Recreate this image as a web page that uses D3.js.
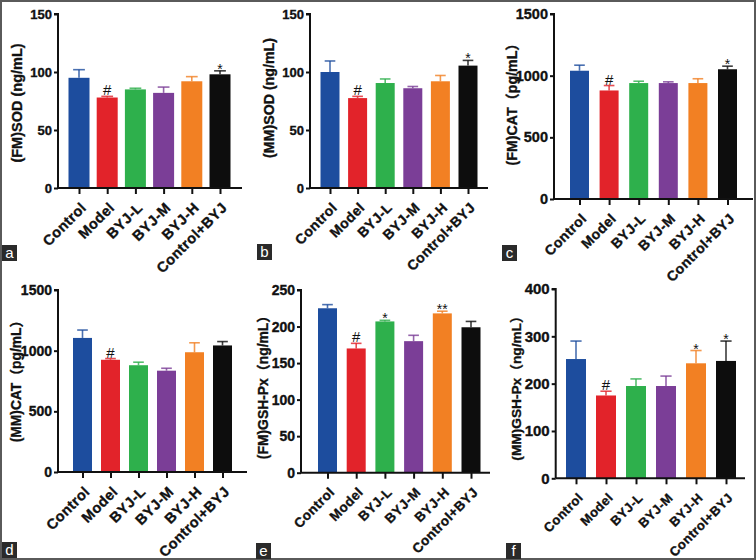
<!DOCTYPE html>
<html><head><meta charset="utf-8">
<script src="https://cdn.jsdelivr.net/npm/d3@7"></script>
<style>html,body{margin:0;padding:0;background:#fff}svg{display:block}</style>
</head><body>
<svg id="c" width="756" height="560"></svg>
<script>
const categories = ["Control","Model","BYJ-L","BYJ-M","BYJ-H","Control+BYJ"];
const colors = ["#1d4d9e","#e2232a","#2eb04c","#7b3e97","#f28023","#0d0d0d"];

const fmSOD = [95, 78, 85, 82, 92, 98];
const fmSODErr = [7, 1, 1, 5, 4, 3];
const mmSOD = [100, 77.5, 90.5, 86, 92, 105.5];
const mmSODErr = [9.5, 1.5, 3.5, 1.5, 5, 4.5];
const fmCAT = [1040, 880, 940, 940, 940, 1052];
const fmCATErr = [45, 40, 15, 10, 35, 25];
const mmCAT = [1105, 925, 880, 835, 987, 1043];
const mmCATErr = [65, 10, 25, 20, 78, 32];
const fmGSH = [225, 170, 207, 180, 218, 199];
const fmGSHErr = [5, 7, 1.5, 8, 3, 8];
const mmGSH = [252, 175, 195, 195, 243, 248];
const mmGSHErr = [38, 9, 15, 21, 27, 42];

const sigA = ["", "#", "", "", "", "*"];
const sigB = ["", "#", "", "", "", "*"];
const sigC = ["", "#", "", "", "", "*"];
const sigD = ["", "#", "", "", "", ""];
const sigE = ["", "#", "*", "", "**", ""];
const sigF = ["", "#", "", "", "*", "*"];

const ticksSOD = [0, 50, 100, 150];
const ticksCAT = [0, 500, 1000, 1500];
const ticksGSHe = [0, 50, 100, 150, 200, 250];
const ticksGSHf = [0, 100, 200, 300, 400];

const titles = ["(FM)SOD (ng/mL)", "(MM)SOD (ng/mL)", "(FM)CAT（pg/mL）", "(MM)CAT（pg/mL）", "(FM)GSH-Px（ng/mL）", "(MM)GSH-Px（ng/mL）"];
const panelLetters = ["a","b","c","d","e","f"];

const panels = [
  {v: fmSOD, e: fmSODErr, s: sigA, t: ticksSOD, ax: 58, top: 14, bot: 188, xe: 242, c0: 79, c1: 220, bw: 21, fs: 13, xfs: 14.5, tx: 17, ty: 103, tfs: 14.5, lx: 2, ly: 245},
  {v: mmSOD, e: mmSODErr, s: sigB, t: ticksSOD, ax: 310, top: 14, bot: 188, xe: 488, c0: 330, c1: 468, bw: 19, fs: 13, xfs: 14, tx: 269, ty: 98, tfs: 14.2, lx: 257, ly: 244},
  {v: fmCAT, e: fmCATErr, s: sigC, t: ticksCAT, ax: 554, top: 14, bot: 199, xe: 753, c0: 579.5, c1: 727.5, bw: 19, fs: 14.5, xfs: 14, tx: 512, ty: 101, tfs: 14.2, lx: 502, ly: 245},
  {v: mmCAT, e: mmCATErr, s: sigD, t: ticksCAT, ax: 58, top: 290, bot: 472, xe: 247, c0: 82.5, c1: 222.5, bw: 19, fs: 14, xfs: 14.5, tx: 16, ty: 378, tfs: 13.8, lx: 2, ly: 542},
  {v: fmGSH, e: fmGSHErr, s: sigE, t: ticksGSHe, ax: 301, top: 290, bot: 472.7, xe: 490, c0: 327.5, c1: 471, bw: 19, fs: 14, xfs: 13.5, tx: 263, ty: 384, tfs: 13.9, lx: 256, ly: 543},
  {v: mmGSH, e: mmGSHErr, s: sigF, t: ticksGSHf, ax: 555.7, top: 289, bot: 478.3, xe: 745, c0: 576, c1: 726, bw: 20, fs: 15, xfs: 13, tx: 516, ty: 385, tfs: 13.7, lx: 506, ly: 543}
];

const svg = d3.select("#c");
svg.append("rect").attr("x", 1).attr("y", 1).attr("width", 754).attr("height", 558)
  .attr("fill", "#fff").attr("stroke", "#5a5a5a").attr("stroke-width", 2);

const FONT = "'Liberation Sans', Arial, 'Noto Sans CJK SC', sans-serif";

function heavy(sel) {
  sel.attr("font-family", FONT).attr("font-weight", "bold").attr("fill", "#111")
    .attr("stroke", "#111").attr("stroke-width", 0.35);
}

panels.forEach((p, pi) => {
  const g = svg.append("g");
  const x = d3.scalePoint().domain(categories).range([p.c0, p.c1]);
  const ymax = p.t[p.t.length - 1];
  const y = d3.scaleLinear().domain([0, ymax]).range([p.bot, p.top]);

  g.selectAll("rect.bar").data(categories).join("rect")
    .attr("x", d => x(d) - p.bw / 2).attr("width", p.bw)
    .attr("y", (d, i) => y(p.v[i])).attr("height", (d, i) => p.bot - y(p.v[i]))
    .attr("fill", (d, i) => colors[i]);

  categories.forEach((d, i) => {
    const cx = x(d), yt = y(p.v[i] + p.e[i]), yb = y(p.v[i]);
    g.append("line").attr("x1", cx).attr("x2", cx).attr("y1", yb).attr("y2", yt)
      .attr("stroke", colors[i]).attr("stroke-width", 1.6).attr("opacity", 0.8);
    g.append("line").attr("x1", cx - p.bw * 0.28).attr("x2", cx + p.bw * 0.28).attr("y1", yt).attr("y2", yt)
      .attr("stroke", colors[i]).attr("stroke-width", 1.6).attr("opacity", 0.8);
    if (p.s[i]) {
      const isHash = p.s[i] === "#";
      g.append("text").attr("x", cx).attr("y", isHash ? yt - 1 : yt + 3)
        .attr("text-anchor", "middle").attr("font-family", FONT)
        .attr("font-size", isHash ? 15 : 14).attr("fill", "#111").text(p.s[i]);
    }
  });

  const ya = d3.axisLeft(y).tickValues(p.t).tickSize(4).tickPadding(2).tickFormat(d3.format("d"));
  const yg = g.append("g").attr("transform", `translate(${p.ax},0)`).call(ya);
  yg.select(".domain").attr("stroke", "#111").attr("stroke-width", 2).attr("d", `M-4,${p.top}H0V${p.bot}`);
  yg.selectAll(".tick line").attr("stroke", "#111").attr("stroke-width", 2);
  yg.selectAll(".tick text").call(heavy).attr("font-size", p.fs);

  const xa = d3.axisBottom(x).tickSize(6).tickPadding(4);
  const xg = g.append("g").attr("transform", `translate(0,${p.bot})`).call(xa);
  xg.select(".domain").attr("stroke", "#111").attr("stroke-width", 2).attr("d", `M${p.ax},0H${p.xe}`);
  xg.selectAll(".tick line").attr("stroke", "#111").attr("stroke-width", 2);
  xg.selectAll(".tick text").call(heavy)
    .attr("font-size", p.xfs).attr("letter-spacing", 0.4)
    .attr("text-anchor", "end").attr("dy", "0.35em")
    .attr("transform", "translate(4,17) rotate(-45)").attr("y", 0).attr("x", 0);

  g.append("text").attr("transform", `translate(${p.tx + 5},${p.ty}) rotate(-90)`)
    .attr("text-anchor", "middle").call(heavy)
    .attr("font-size", p.tfs).text(titles[pi]);

  g.append("rect").attr("x", p.lx).attr("y", p.ly).attr("width", 15).attr("height", 16).attr("fill", "#2a2a2a");
  g.append("text").attr("x", p.lx + 7.5).attr("y", p.ly + 12.5).attr("text-anchor", "middle")
    .attr("font-family", FONT).attr("font-size", 15).attr("fill", "#fff").text(panelLetters[pi]);
});
</script>
</body></html>
